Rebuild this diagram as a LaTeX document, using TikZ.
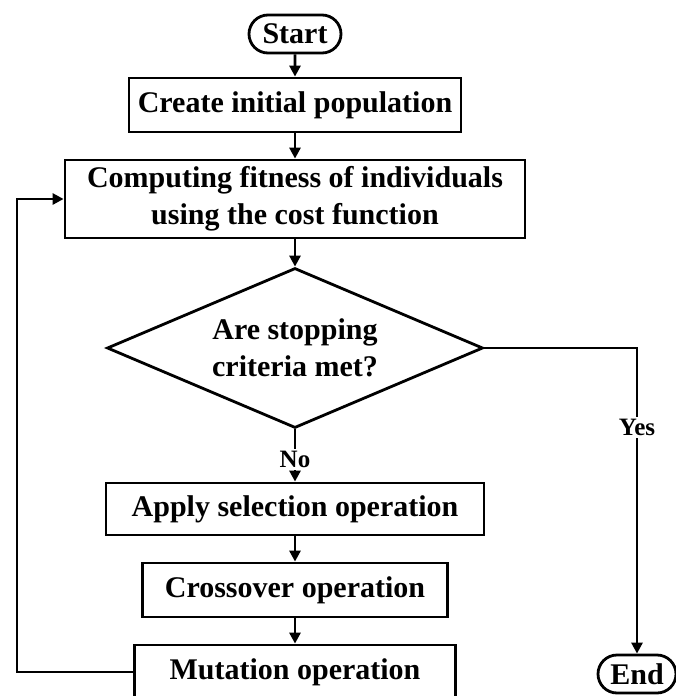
\documentclass[tikz,border=0pt]{standalone}
\usepackage{fontspec}
\setmainfont{Liberation Serif}
\usetikzlibrary{shapes.geometric,shapes.misc,arrows.meta}

\begin{document}
\begin{tikzpicture}[x=1pt,y=-1pt,line width=2.8pt,
    every node/.style={font=\bfseries\fontsize{30}{37}\selectfont},
    procbox/.style={draw,rectangle,inner sep=0pt,align=center},
    termbox/.style={draw,rounded rectangle,inner sep=0pt},
    choice/.style={draw,diamond,aspect=2.35,inner sep=0pt,align=center},
    lbl/.style={fill=white,inner sep=2pt,font=\bfseries\fontsize{25}{30}\selectfont},
    flow/.style={-{Triangle[length=11pt,width=11pt]}}]
  \useasboundingbox (0,0) rectangle (675,696);

  \node[termbox,minimum width=92,minimum height=38] (start) at (295,34) {Start};
  \node[procbox,minimum width=332,minimum height=54] (create) at (295,105) {Create initial population};
  \node[procbox,minimum width=460,minimum height=78] (fitness) at (295,199) {Computing fitness of individuals\\using the cost function};
  \node[choice,minimum width=376,minimum height=160] (decision) at (295,348) {Are stopping\\criteria met?};
  \node[procbox,minimum width=378,minimum height=52] (select) at (295,509) {Apply selection operation};
  \node[procbox,minimum width=305,minimum height=54] (cross) at (295,590) {Crossover operation};
  \node[procbox,minimum width=321,minimum height=54] (mutate) at (295,672) {Mutation operation};
  \node[termbox,minimum width=78,minimum height=38] (finish) at (637,674) {End};
  \coordinate (back) at (17,672);

  \draw[flow] (start) -- (create);
  \draw[flow] (create) -- (fitness);
  \draw[flow] (fitness) -- (decision);
  \draw[flow] (decision) -- node[lbl,pos=0.58] {No} (select);
  \draw[flow] (decision.east) -| node[lbl,pos=0.63] {Yes} (finish.north);
  \draw[flow] (select) -- (cross);
  \draw[flow] (cross) -- (mutate);
  \draw[flow] (mutate.west) -- (back) |- (fitness.west);

\end{tikzpicture}
\end{document}
